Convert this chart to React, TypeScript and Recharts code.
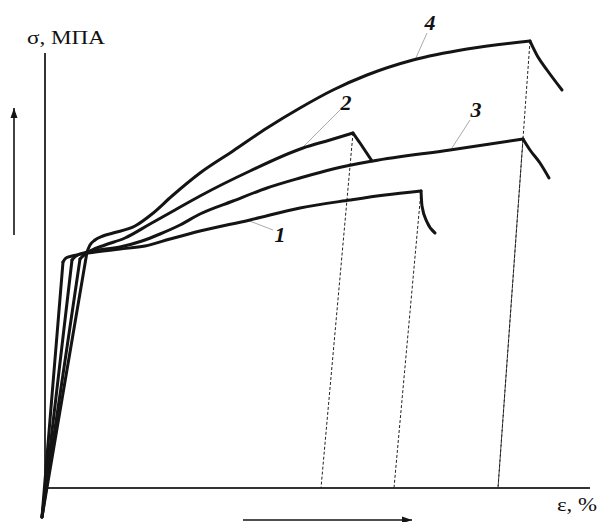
import React from 'react';
import { LineChart, Line, XAxis, YAxis, ReferenceLine } from 'recharts';

// ε in %, σ in MPa (arbitrary units)
// elastic branch (straight), hardening branch (up to the peak) and fracture branch of each curve
const curve1Elastic = [{ e: -0.15, s: -29 }, { e: 0.9, s: 226 }];
const curve1Rise = [
  { e: 0.9, s: 226 }, { e: 1.05, s: 230 }, { e: 1.35, s: 232 },
  { e: 2.15, s: 235 }, { e: 3.75, s: 239 }, { e: 5.0, s: 242 }, { e: 6.25, s: 249 },
  { e: 7.75, s: 257 }, { e: 10.25, s: 268 }, { e: 12.75, s: 280 }, { e: 15.25, s: 288 },
  { e: 17.0, s: 293 }, { e: 18.8, s: 297 },
];
const curve1Drop = [{ e: 18.8, s: 297 }, { e: 18.85, s: 282 }, { e: 19.1, s: 266 }, { e: 19.5, s: 255 }];

const curve2Elastic = [{ e: -0.15, s: -29 }, { e: 1.75, s: 229 }];
const curve2Rise = [
  { e: 1.75, s: 229 }, { e: 1.95, s: 233 }, { e: 2.25, s: 237 },
  { e: 3.0, s: 243 }, { e: 4.0, s: 250 }, { e: 5.25, s: 264 }, { e: 6.5, s: 278 },
  { e: 7.75, s: 292 }, { e: 10.25, s: 317 }, { e: 12.9, s: 340 }, { e: 14.25, s: 348 },
  { e: 15.4, s: 355 },
];
const curve2Drop = [{ e: 15.4, s: 355 }, { e: 15.75, s: 345 }, { e: 16.05, s: 336 }, { e: 16.35, s: 327 }];

const curve3Elastic = [{ e: -0.15, s: -29 }, { e: 1.35, s: 228 }];
const curve3Rise = [
  { e: 1.35, s: 228 }, { e: 1.55, s: 232 }, { e: 2.15, s: 236 },
  { e: 3.75, s: 241 }, { e: 4.85, s: 247 }, { e: 5.75, s: 254 }, { e: 6.75, s: 263 },
  { e: 7.75, s: 274 }, { e: 9.4, s: 287 }, { e: 11.1, s: 300 }, { e: 12.75, s: 310 },
  { e: 14.4, s: 319 }, { e: 16.4, s: 327 }, { e: 20.25, s: 338 }, { e: 23.9, s: 349 },
];
const curve3Drop = [{ e: 23.9, s: 349 }, { e: 24.25, s: 338 }, { e: 24.75, s: 325 }, { e: 25.2, s: 310 }];

const curve4Elastic = [{ e: -0.15, s: -29 }, { e: 2.1, s: 236 }];
const curve4Rise = [
  { e: 2.1, s: 236 }, { e: 2.25, s: 243 }, { e: 2.5, s: 248 },
  { e: 2.9, s: 252 }, { e: 3.4, s: 255 }, { e: 4.5, s: 262 }, { e: 5.35, s: 274 },
  { e: 6.35, s: 292 }, { e: 7.75, s: 315 }, { e: 9.4, s: 337 }, { e: 11.1, s: 360 },
  { e: 12.75, s: 380 }, { e: 14.4, s: 398 }, { e: 16.1, s: 413 }, { e: 18.4, s: 428 },
  { e: 21.1, s: 439 }, { e: 24.25, s: 447 },
];
const curve4Drop = [{ e: 24.25, s: 447 }, { e: 24.65, s: 431 }, { e: 25.1, s: 418 }, { e: 25.85, s: 398 }];

// unloading (dashed) lines: from peak down to residual strain
const unload1 = [{ e: 18.8, s: 297 }, { e: 17.45, s: 0 }];
const unload2 = [{ e: 15.4, s: 355 }, { e: 13.8, s: 0 }];
const unload3 = [{ e: 23.9, s: 349 }, { e: 22.65, s: 0 }];
const unload4 = [{ e: 24.25, s: 447 }, { e: 22.65, s: 0 }];

// axes and direction arrows
const yAxisLine = [{ e: 0, s: 0 }, { e: 0, s: 435 }];
const xAxisLine = [{ e: 0, s: 0 }, { e: 27.25, s: 0 }];
const arrowUp = [{ e: -1.55, s: 253 }, { e: -1.55, s: 380 }];
const arrowRight = [{ e: 9.9, s: -32 }, { e: 18.35, s: -32 }];

// leaders for curve numbers
const leaders = [
  { id: '1', from: { e: 10.1, s: 268 }, to: { e: 11.4, s: 258 } },
  { id: '2', from: { e: 12.9, s: 341 }, to: { e: 14.75, s: 378 } },
  { id: '3', from: { e: 20.25, s: 337 }, to: { e: 21.25, s: 368 } },
  { id: '4', from: { e: 18.5, s: 428 }, to: { e: 19.1, s: 455 } },
];

const INK = '#141414';

const arrowHead = (dir: 'up' | 'right', n: number) => (props: any) => {
  const { cx, cy, index } = props;
  if (index !== n - 1) return <g key={`d${index}`} />;
  const pts =
    dir === 'up'
      ? `${cx},${cy} ${cx - 3.5},${cy + 10} ${cx + 3.5},${cy + 10}`
      : `${cx},${cy} ${cx - 10},${cy - 3.5} ${cx - 10},${cy + 3.5}`;
  return <polygon key={`d${index}`} points={pts} fill={INK} stroke="none" />;
};

const serif = '"Liberation Serif", "Times New Roman", serif';

export default function App() {
  const baseProps = {
    dataKey: 's',
    stroke: INK,
    dot: false,
    activeDot: false,
    isAnimationActive: false,
  };
  const curveProps = {
    ...baseProps,
    type: 'monotoneX' as const,
    strokeWidth: 3,
    strokeLinejoin: 'round' as const,
    strokeLinecap: 'round' as const,
  };
  const elasticProps = { ...curveProps, type: 'linear' as const };
  const straightProps = {
    ...baseProps,
    type: 'linear' as const,
  };
  const dashProps = {
    ...baseProps,
    type: 'linear' as const,
    stroke: '#222',
    strokeWidth: 1,
    strokeDasharray: '3 2',
  };
  return (
    <div style={{ position: 'absolute', left: 0, top: 0, background: '#fff' }}>
      <LineChart width={598} height={522} margin={{ top: 0, right: 8, bottom: 0, left: 0 }}>
        <XAxis type="number" dataKey="e" domain={[-2.25, 27.25]} hide allowDataOverflow />
        <YAxis type="number" dataKey="s" domain={[-34, 488]} hide allowDataOverflow />

        <Line data={yAxisLine} {...straightProps} stroke="#333" strokeWidth={2} />
        <Line data={xAxisLine} {...straightProps} stroke="#333" strokeWidth={2} />

        <Line data={unload1} {...dashProps} />
        <Line data={unload2} {...dashProps} />
        <Line data={unload3} {...dashProps} />
        <Line data={unload4} {...dashProps} />

        {leaders.map((l) => (
          <ReferenceLine
            key={l.id}
            segment={[{ x: l.from.e, y: l.from.s }, { x: l.to.e, y: l.to.s }]}
            stroke="#aaa"
            strokeWidth={1}
            ifOverflow="visible"
          />
        ))}

        <Line data={curve1Elastic} {...elasticProps} />
        <Line data={curve1Rise} {...curveProps} />
        <Line data={curve1Drop} {...curveProps} />
        <Line data={curve2Elastic} {...elasticProps} />
        <Line data={curve2Rise} {...curveProps} />
        <Line data={curve2Drop} {...curveProps} />
        <Line data={curve3Elastic} {...elasticProps} />
        <Line data={curve3Rise} {...curveProps} />
        <Line data={curve3Drop} {...curveProps} />
        <Line data={curve4Elastic} {...elasticProps} />
        <Line data={curve4Rise} {...curveProps} />
        <Line data={curve4Drop} {...curveProps} />

        <Line data={arrowUp} {...straightProps} strokeWidth={1.6} dot={arrowHead('up', 2)} />
        <Line data={arrowRight} {...straightProps} strokeWidth={1.6} dot={arrowHead('right', 2)} />

        <g fontFamily={serif} fill="#111">
          <text x={27} y={44} fontSize={18} textLength={78} lengthAdjust="spacingAndGlyphs">σ, МПА</text>
          <text x={557} y={511} fontSize={18} textLength={40} lengthAdjust="spacingAndGlyphs">ε, %</text>
        </g>
        <g fontFamily={serif} fill="#111" fontWeight="bold" fontStyle="italic" fontSize={22} textAnchor="middle">
          <text x={280} y={242}>1</text>
          <text x={346} y={110}>2</text>
          <text x={476} y={117}>3</text>
          <text x={430} y={30}>4</text>
        </g>
      </LineChart>
    </div>
  );
}
